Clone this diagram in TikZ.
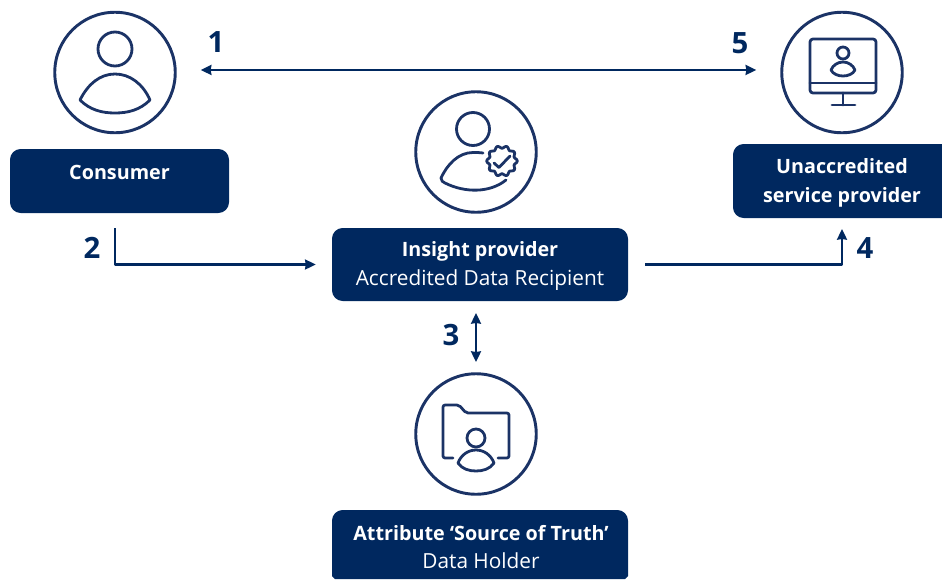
\documentclass[tikz,border=0pt]{standalone}
\usepackage{fontspec}
\setmainfont{Open Sans}
\usetikzlibrary{arrows.meta}
\definecolor{navy}{HTML}{00285F}
\definecolor{iconc}{HTML}{1B3366}
\newcommand{\bt}[1]{{\fontsize{14.8}{21.5}\selectfont\bfseries #1}}
\newcommand{\rt}[1]{{\fontsize{15.6}{21.5}\selectfont #1}}
\tikzset{
  ring/.style={circle,draw=iconc,line width=2.2pt,minimum size=120.5*0.75pt,inner sep=0pt},
  icon/.style={draw=iconc,line width=2.1pt,line join=round,line cap=round},
  box/.style={fill=navy,rounded corners=8pt,draw=none,inner sep=0pt},
  boxtext/.style={text=white,align=center,font=\fontsize{14.7}{21.5}\selectfont,inner sep=0pt},
  num/.style={text=navy,font=\fontsize{22}{24}\selectfont\bfseries,inner sep=0pt},
  conn/.style={draw=navy,line width=1.6pt,line join=round},
  tip/.style={-{Stealth[length=8pt,width=7.5pt,inset=0.5pt]}},
  tips/.style={{Stealth[length=8pt,width=7.5pt,inset=0.5pt]}-{Stealth[length=8pt,width=7.5pt,inset=0.5pt]}}
}
\begin{document}
\begin{tikzpicture}[x=0.75pt,y=-0.75pt]
\useasboundingbox (0,0) rectangle (942,579);
% rings
\node[ring] (cons) at (115,72.5) {};
\node[ring] (insi) at (476,152) {};
\node[ring] (unac) at (842,72.5) {};
\node[ring] (hold) at (476,434) {};
% boxes
\node[box,minimum width=219*0.75pt,minimum height=64*0.75pt] (consbox) at (119.5,181) {};
\node[box,minimum width=296*0.75pt,minimum height=73*0.75pt] (insibox) at (480,264.5) {};
\fill[navy] (942,144) [rounded corners=8pt] -- (733,144) -- (733,218) [sharp corners] -- (942,218) -- cycle;
\fill[navy] (335,579) -- (332,576) [rounded corners=8pt] -- (332,510) -- (628,510) [sharp corners] -- (628,576) -- (625,579) -- cycle;
% box texts
\node[boxtext] (t1) at (119.5,172) {\bt{Consumer}};
\node[boxtext] (t2) at (480,266) {\bt{Insight provider}\\\rt{Accredited Data Recipient}};
\node[boxtext] (t3) at (842,183) {\bt{Unaccredited}\\\bt{service provider}};
\node[boxtext] (t4) at (481,547) {\bt{Attribute ‘Source of Truth’}\\\rt{Data Holder}};
% numbers
\node[num] (n1) at (216,42) {1};
\node[num] (n5) at (740,43) {5};
\node[num] (n2) at (92,248) {2};
\node[num] (n3) at (451,335) {3};
\node[num] (n4) at (865,248) {4};
% connectors
\draw[conn,tips,shorten <=18pt,shorten >=18pt] ([yshift=1.9pt]cons.east) -- ([yshift=1.9pt]unac.west);
\coordinate (a2) at (115,228);
\draw[conn,tip,shorten >=12pt] (a2) |- (insibox.west);
\coordinate (a4) at (842,229);
\draw[conn,tip] ([xshift=12.75pt]insibox.east) -| (a4);
\coordinate (a3s) at (476,313);
\coordinate (a3e) at (476,362);
\draw[conn,tips] (a3s) -- (a3e);
% consumer icon
\draw[icon] (115,49) circle[radius=17];
\draw[icon] (80,100) .. controls (88,84) and (100,74) .. (115,74) .. controls (130,74) and (143,84) .. (150,100) .. controls (140,110) and (128,113) .. (115,113) .. controls (102,113) and (90,110) .. (80,100) -- cycle;
% insight icon
\draw[icon] (473,129) circle[radius=16.5];
\draw[icon] (483,153) .. controls (480,152.5) and (476,152.5) .. (473,152.5) .. controls (458,152.5) and (447,165) .. (441,178) .. controls (441,181) and (443,182) .. (445,183) .. controls (465,193) and (490,193) .. (506,180);
\begin{scope}[shift={(502,161)}]
\draw[icon] plot[domain=0:360,samples=73,smooth] (\x:{14+1.3*cos(10*\x)}) -- cycle;
\draw[icon] (-8,2) -- (-3,6.5) -- (8,-5);
\end{scope}
% monitor icon
\draw[icon,rounded corners=2.2pt] (810,39) -- (876,39) -- (876,93) -- (810,93) -- cycle;
\draw[icon] (810,83) -- (876,83);
\draw[icon] (843,93) -- (843,105);
\draw[icon] (832,105) -- (855,105);
\draw[icon] (843,53) circle[radius=6];
\draw[icon] (831,70) .. controls (833,65) and (838,62) .. (843,62) .. controls (848,62) and (853,65) .. (855,70) .. controls (853,74) and (848,76) .. (843,76) .. controls (838,76) and (833,74) .. (831,70) -- cycle;
% folder icon
\draw[icon,rounded corners=1.6pt] (453,458) -- (443,458) -- (443,405) -- (459,405) -- (466,413) -- (509,413) -- (509,458) -- (498,458);
\draw[icon] (476,438) circle[radius=9];
\draw[icon] (458,463) .. controls (461,455) and (468,450) .. (476,450) .. controls (484,450) and (491,455) .. (494,463) .. controls (490,469) and (483,471) .. (476,471) .. controls (469,471) and (462,469) .. (458,463) -- cycle;
\end{tikzpicture}
\end{document}
